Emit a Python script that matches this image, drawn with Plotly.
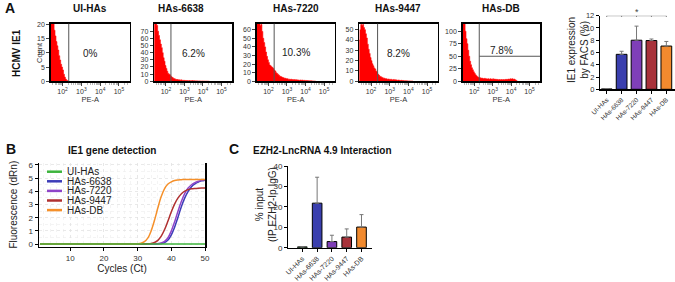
import math
import plotly.graph_objects as go

W, H = 675, 282
FONT = "Arial, Liberation Sans, Helvetica, sans-serif"

# ---------------- DATA ----------------
# Panel A: flow histograms (counts per log10 bin, bins start at 10^1.35, width 0.05 decade)
hist_titles = ["UI-HAs", "HAs-6638", "HAs-7220", "HAs-9447", "HAs-DB"]
hist_percent = ["0%", "6.2%", "10.3%", "8.2%", "7.8%"]
hist_ymax = [20.3, 80.5, 67, 55.8, 115]
hist_yticks = [[0, 5, 10, 15, 20], [0, 10, 20, 30, 40, 50, 60, 70],
                [0, 10, 20, 30, 40, 50, 60], [0, 10, 20, 30, 40, 50], [0, 25, 50, 75, 100]]
gate_log = [2.33, 2.27, 2.31, 2.35, 2.27]

counts_ui = [22, 22, 21, 20.5, 18, 16, 14, 12.5, 11, 9, 7.5, 6, 5, 4, 2.5, 1.5, 0.8, 0.4, 0.2]
counts_6638 = [85, 85, 80, 78, 70, 64, 58, 52, 47, 40, 33, 28, 22, 18, 14, 11, 10, 9, 7, 6,
               5, 4, 3.5, 3, 2.5, 2.5, 2, 2, 1.5, 2, 1.5, 1.2, 1.5, 1, 1.2, 1, 1, 0.8, 1, 0.8,
               0.8, 1, 0.6, 0.8, 0.6, 0.5, 0.6, 0.5, 0.4, 0.5, 0.4, 0.3, 0.4, 0.3, 0.3, 0.2,
               0.3, 0.2, 0.2, 0.1]
counts_7220 = [70, 72, 68, 70, 65, 66, 58, 50, 45, 40, 34, 29, 25, 22, 19, 18, 17, 16, 15, 13,
               12, 10, 9, 8, 7, 6, 5.5, 5, 4.5, 4, 3.5, 3.5, 3, 3, 2.5, 2.5, 2, 2.5, 2, 2,
               1.8, 2, 1.5, 1.8, 1.5, 1.5, 1.2, 1.5, 1.2, 1.5, 1, 1.2, 1, 1, 0.8, 0.8, 0.6,
               0.6, 0.5, 0.5, 0.4, 0.3, 0.3, 0.2]
counts_9447 = [40, 50, 55, 54, 55, 52, 50, 46, 42, 36, 31, 27, 23, 20, 17, 15, 13, 12, 10, 9,
               7, 6, 5, 4.5, 4, 3.5, 3, 3, 2.5, 2.5, 2, 2.2, 2, 1.8, 2, 1.5, 1.5, 1.8, 1.2, 1.5,
               1.2, 1, 1.2, 1, 0.8, 1, 0.8, 0.8, 0.6, 0.6, 0.5, 0.5, 0.4, 0.4, 0.3, 0.3, 0.2, 0.2]
counts_db = [120, 120, 115, 100, 85, 75, 62, 50, 40, 33, 27, 23, 19, 16, 13, 11, 9, 8, 7, 7,
             6, 6.5, 5.5, 5, 6, 5, 5, 4.5, 5, 4, 5, 4.5, 4, 5, 4, 4.5, 3.5, 4, 3.5, 3,
             3.5, 3, 3.5, 3, 3.5, 3, 3.5, 4, 3.5, 4, 4.5, 4, 5, 4.5, 5, 4, 4.5, 3, 2, 0.5]
hist_counts = [counts_ui, counts_6638, counts_7220, counts_9447, counts_db]

# Panel A right: IE1 expression by FACS (%)
groups = ["UI-HAs", "HAs-6638", "HAs-7220", "HAs-9447", "HAs-DB"]
facs_mean = [0.05, 5.7, 8.0, 7.95, 7.05]
facs_err = [0.0, 0.5, 2.3, 0.25, 0.75]

# Panel B: qPCR amplification curves
cycles = list(range(1, 51))
amp_ui = [0.0] * 50
amp_6638 = [0.0] * 36 + [0.04, 0.11, 0.3, 0.7, 1.3, 2.05, 2.85, 3.5, 4.0, 4.35, 4.56, 4.7, 4.79, 4.85]
amp_7220 = [0.0] * 35 + [0.03, 0.08, 0.2, 0.48, 1.0, 1.7, 2.5, 3.25, 3.85, 4.25, 4.5, 4.66, 4.76, 4.83, 4.88]
amp_9447 = [0.0] * 32 + [0.02, 0.05, 0.12, 0.28, 0.6, 1.1, 1.75, 2.45, 3.05, 3.5, 3.82, 4.02, 4.13,
                         4.19, 4.22, 4.24, 4.25, 4.25]
amp_db = [0.0] * 29 + [0.02, 0.06, 0.18, 0.45, 1.0, 1.8, 2.75, 3.6, 4.2, 4.55, 4.72, 4.82, 4.86,
                       4.88, 4.9, 4.9, 4.9, 4.9, 4.9, 4.9, 4.9]

# Panel C: EZH2-LncRNA 4.9 interaction (% input)
rip_mean = [0.4, 21.8, 3.0, 5.2, 10.1]
rip_err = [0.0, 12.7, 3.1, 4.0, 6.1]

# ---------------- STYLE ----------------
bar_colors = ["#3cb43c", "#3a3fae", "#7f3fb8", "#a8323a", "#f28a2e"]
curve_colors = ["#3cb43c", "#3c3cb8", "#8e44c8", "#b03030", "#f5902a"]
BIN0, BINW = 1.35, 0.05


def px(x):
    return x / W


def py(y):
    return 1 - y / H


def dx(a, b):
    return [px(a), px(b)]


def dy(top, bottom):
    return [py(bottom), py(top)]


def note(text, x, y, size=10, color="#222", angle=0, xa="center", ya="middle", **kw):
    d = dict(text=text, x=px(x), y=py(y), xref="paper", yref="paper", xanchor=xa, yanchor=ya,
             showarrow=False, textangle=angle, font=dict(size=size, color=color))
    d.update(kw)
    return d


fig = go.Figure()
layout = dict(width=W, height=H, margin=dict(l=0, r=0, t=0, b=0, autoexpand=False),
              paper_bgcolor="white", plot_bgcolor="white", showlegend=False,
              font=dict(family=FONT, color="#222"))
annotations = []
shapes = []

# --- histograms ---
hist_boxes = [(50.7, 129.7), (154.3, 232.0), (256.7, 334.7), (359.3, 437.7), (462.7, 540.0)]
title_x = [90, 181, 295.7, 398.5, 501]
pct_y = [53, 53, 52, 53, 50]
minor_vals = []
for n in range(1, 6):
    for k in range(2, 10):
        minor_vals.append(n + math.log10(k))
XR = [1.37, 5.57]
for i in range(5):
    ax = "" if i == 0 else str(i + 1)
    c = hist_counts[i]
    xs = [BIN0 + j * BINW for j in range(len(c))] + [BIN0 + len(c) * BINW]
    ys = list(c) + [0]
    fig.add_trace(go.Scatter(x=xs, y=ys, mode="lines", line=dict(shape="hv", color="#ff0000", width=0.6),
                             fill="tozeroy", fillcolor="#ff0000", xaxis="x" + ax, yaxis="y" + ax,
                             hoverinfo="skip"))
    layout["xaxis" + ax] = dict(domain=dx(*hist_boxes[i]), anchor="y" + ax, range=XR, automargin=False,
                                tickvals=[2, 3, 4, 5],
                                ticktext=["10<sup>2</sup>", "10<sup>3</sup>", "10<sup>4</sup>", "10<sup>5</sup>"],
                                ticks="outside", ticklen=3, tickwidth=1, tickcolor="#444",
                                minor=dict(tickvals=[v for v in minor_vals if XR[0] < v < XR[1]],
                                           ticks="outside", ticklen=2.5, tickcolor="#888", tickwidth=0.6),
                                tickfont=dict(size=7, color="#333"), showgrid=False, zeroline=False,
                                showline=True, mirror=True, linecolor="black", linewidth=1.5,
                                title=dict(text="PE-A", font=dict(size=7.5, color="#333"), standoff=1))
    layout["yaxis" + ax] = dict(domain=dy(23.7, 81.3), anchor="x" + ax, range=[0, hist_ymax[i]],
                                automargin=False,
                                tickvals=hist_yticks[i], ticks="outside", ticklen=3, tickcolor="#444",
                                tickfont=dict(size=7, color="#333"), showgrid=False, zeroline=False,
                                showline=True, mirror=True, linecolor="black", linewidth=1.5)
    shapes.append(dict(type="line", xref="x" + ax, yref="y" + ax + " domain", x0=gate_log[i], x1=gate_log[i],
                       y0=0, y1=1, line=dict(color="#555", width=1)))
    annotations.append(note("<b>%s</b>" % hist_titles[i], title_x[i], 8, size=10, color="#111"))
    annotations.append(dict(text=hist_percent[i], xref="x" + ax + " domain", x=0.5, xanchor="center",
                            yref="paper", y=py(pct_y[i]), yanchor="middle", showarrow=False,
                            font=dict(size=10, color="#222")))
shapes.append(dict(type="line", xref="x5", yref="y5", x0=gate_log[4], x1=XR[1], y0=50, y1=50,
                   line=dict(color="#555", width=1)))
annotations.append(note("Count", 39, 53, size=7.5, color="#333", angle=-90))
annotations.append(note("<b>HCMV IE1</b>", 16, 53, size=10, color="#111", angle=-90))
annotations.append(note("<b>A</b>", 10, 8, size=14, color="#111"))

# --- A right: bar chart ---
fig.add_trace(go.Bar(x=list(range(5)), y=facs_mean, width=0.72,
                     marker=dict(color=bar_colors, line=dict(color="black", width=1)),
                     error_y=dict(type="data", array=facs_err, arrayminus=[0] * 5, color="#777",
                                  thickness=1, width=2),
                     xaxis="x6", yaxis="y6", hoverinfo="skip"))
layout["xaxis6"] = dict(domain=dx(600, 675), anchor="y6", range=[-0.45, 4.58], tickvals=list(range(5)),
                        automargin=False,
                        ticktext=groups, tickangle=-45, ticks="outside", ticklen=3, tickcolor="black",
                        tickfont=dict(size=6.5, color="#333"), showline=True, linecolor="black", linewidth=1.2,
                        showgrid=False, zeroline=False)
layout["yaxis6"] = dict(domain=dy(15.7, 89.3), anchor="x6", range=[0, 12], dtick=2, ticks="outside",
                        automargin=False,
                        ticklen=3, tickcolor="black", tickfont=dict(size=7.5, color="#333"), showline=True,
                        linecolor="black", linewidth=1.2, showgrid=False, zeroline=False)
shapes.append(dict(type="line", xref="x6", yref="y6", x0=0, x1=4, y0=12, y1=12,
                   line=dict(color="#777", width=1)))
for k in range(5):
    shapes.append(dict(type="line", xref="x6", yref="y6", x0=k, x1=k, y0=11.8, y1=12,
                       line=dict(color="#777", width=1)))
annotations.append(dict(text="*", xref="x6", yref="y6", x=2, y=12, xanchor="center", yanchor="bottom",
                        yshift=-3, showarrow=False, font=dict(size=9, color="#444")))
annotations.append(note("IE1 expression<br>by FACS (%)", 578, 50, size=10, angle=-90))

# --- B: amplification curves ---
curves = [amp_6638, amp_7220, amp_9447, amp_db, amp_ui]
cidx = [1, 2, 3, 4, 0]
for ci, cv in zip(cidx, curves):
    fig.add_trace(go.Scatter(x=cycles, y=cv, mode="lines", line=dict(color=curve_colors[ci], width=1.5,
                                                                     shape="spline"),
                             xaxis="x7", yaxis="y7", hoverinfo="skip"))
layout["xaxis7"] = dict(domain=dx(39, 205), anchor="y7", range=[0.7, 50], tickvals=[10, 20, 30, 40, 50],
                        automargin=False,
                        ticks="outside", ticklen=3, tickcolor="black", tickfont=dict(size=8, color="#333"),
                        showline=True, linecolor="black", linewidth=1.5, zeroline=False,
                        showgrid=True, gridcolor="#e4e4e4", griddash="dot", gridwidth=0.8,
                        minor=dict(dtick=2, showgrid=True, gridcolor="#ececec", griddash="dot", gridwidth=0.6),
                        title=dict(text="Cycles (Ct)", font=dict(size=10, color="#222"), standoff=3))
layout["yaxis7"] = dict(domain=dy(162.7, 246.7), anchor="x7", range=[-0.2, 6.17], dtick=1, ticks="outside",
                        automargin=False,
                        ticklen=3, tickcolor="black", tickfont=dict(size=8, color="#333"), showline=True,
                        mirror=True, linecolor="black", linewidth=1.5, zeroline=False,
                        showgrid=True, gridcolor="#e4e4e4", griddash="dot", gridwidth=0.8,
                        minor=dict(dtick=0.5, showgrid=True, gridcolor="#ececec", griddash="dot",
                                   gridwidth=0.6),
                        title=dict(text="Fluorescence (dRn)", font=dict(size=10, color="#222"), standoff=9))
legend_names = ["UI-HAs", "HAs-6638", "HAs-7220", "HAs-9447", "HAs-DB"]
for k, name in enumerate(legend_names):
    yy = 171.7 + 9.6 * k
    shapes.append(dict(type="line", xref="paper", yref="paper", x0=px(47), x1=px(62), y0=py(yy), y1=py(yy),
                       line=dict(color=curve_colors[k], width=2.5)))
    annotations.append(note(name, 65, yy, size=10, xa="left"))
annotations.append(note("<b>IE1 gene detection</b>", 112, 150, size=10, color="#111"))
annotations.append(note("<b>B</b>", 11, 149, size=14, color="#111"))

# --- C: bar chart ---
fig.add_trace(go.Bar(x=list(range(5)), y=rip_mean, width=0.65,
                     marker=dict(color=bar_colors, line=dict(color="black", width=1)),
                     error_y=dict(type="data", array=rip_err, arrayminus=[0] * 5, color="#777",
                                  thickness=1, width=2),
                     xaxis="x8", yaxis="y8", hoverinfo="skip"))
layout["xaxis8"] = dict(domain=dx(288.3, 371.7), anchor="y8", range=[-0.95, 4.69], tickvals=list(range(5)),
                        automargin=False,
                        ticktext=groups, tickangle=-45, ticks="outside", ticklen=3, tickcolor="black",
                        tickfont=dict(size=7, color="#333"), showline=True, linecolor="black",
                        linewidth=1.2, showgrid=False, zeroline=False)
layout["yaxis8"] = dict(domain=dy(166, 247.7), anchor="x8", range=[0, 40], dtick=10, ticks="outside",
                        automargin=False,
                        ticklen=3, tickcolor="black", tickfont=dict(size=8, color="#333"), showline=True,
                        linecolor="black", linewidth=1.2, showgrid=False, zeroline=False)
annotations.append(note("% input<br>(IP EZH2-Ip IgG)", 266, 205, size=10, angle=-90))
annotations.append(note("<b>EZH2-LncRNA 4.9 Interaction</b>", 251, 150, size=10, color="#111", xa="left"))
annotations.append(note("<b>C</b>", 234, 149, size=14, color="#111"))

layout["annotations"] = annotations
layout["shapes"] = shapes
fig.update_layout(**layout)
fig.write_html("out.html", config={"displayModeBar": False, "staticPlot": True},
               post_script="document.body.style.margin='0px';")
